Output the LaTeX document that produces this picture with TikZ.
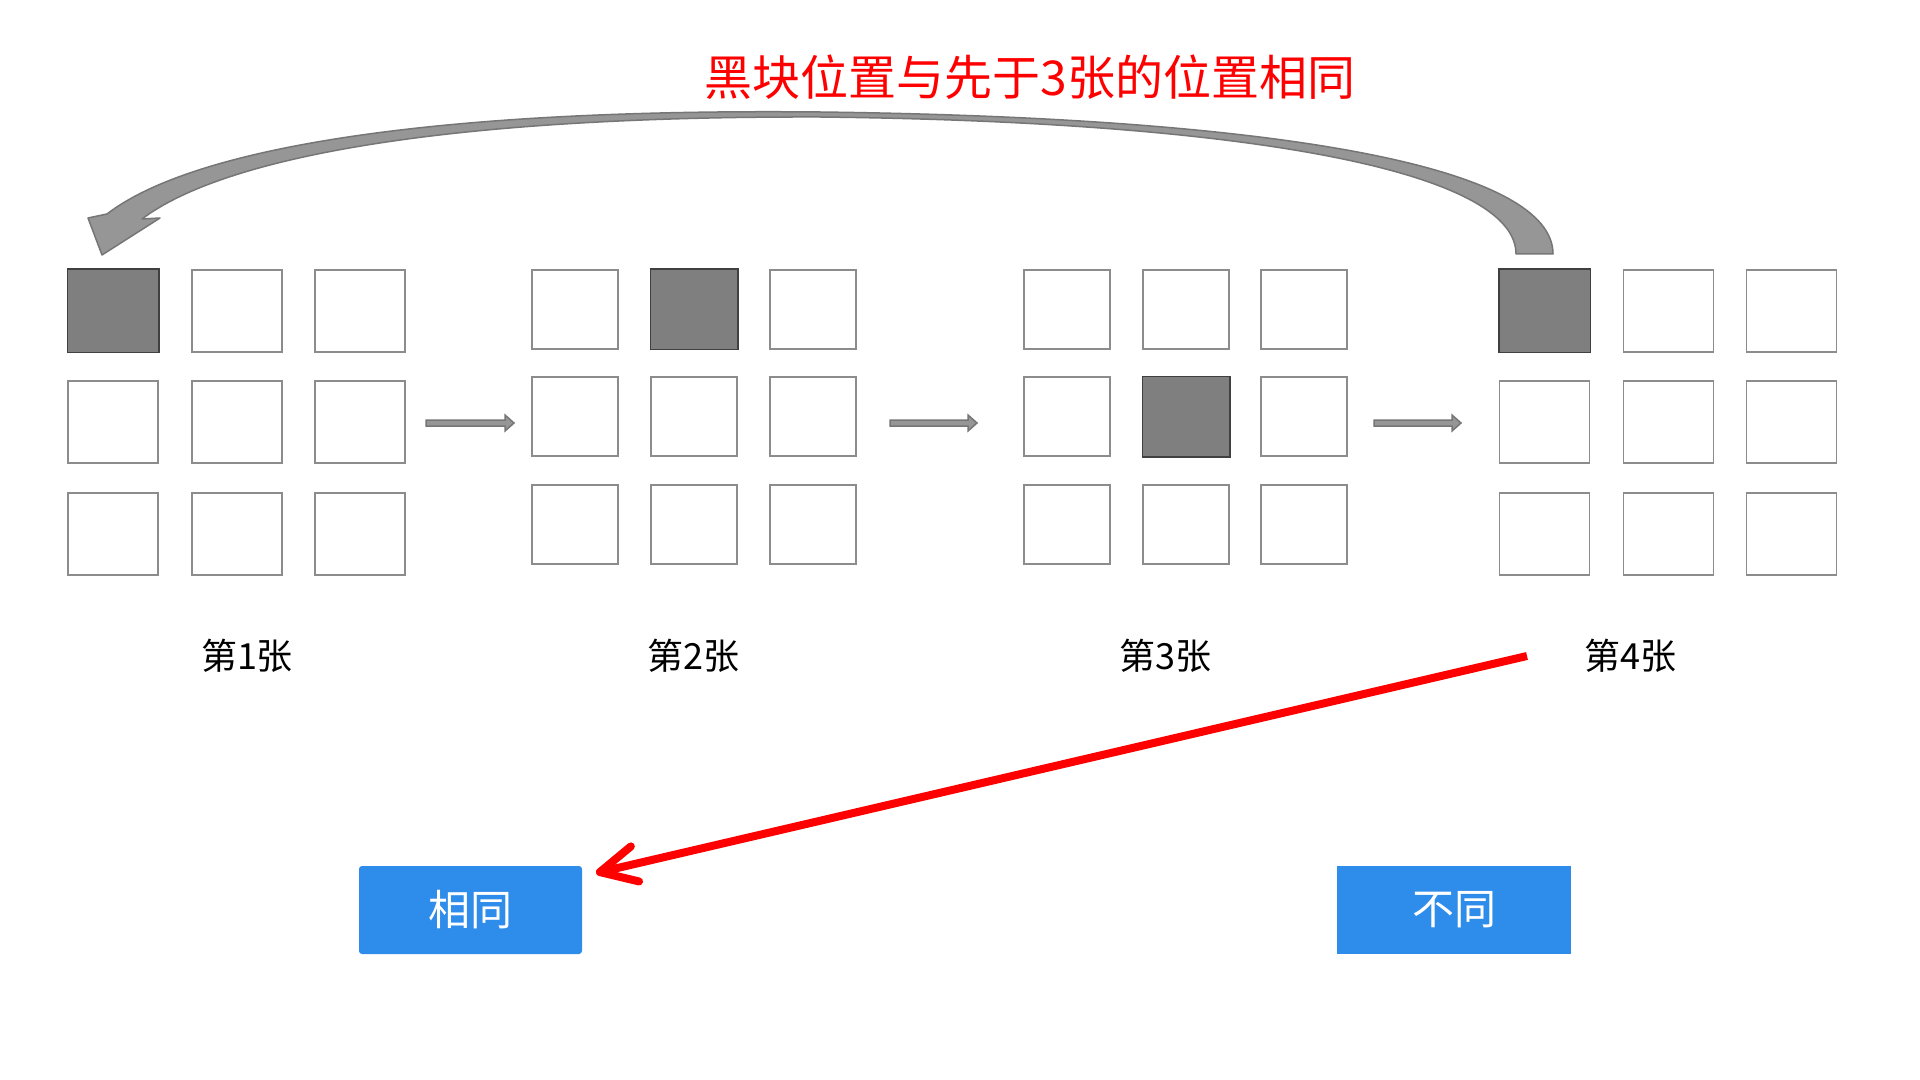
\documentclass[tikz,border=0pt]{standalone}
\usepackage{fontspec}
\newfontfamily\cjk{Noto Sans CJK SC}
\usetikzlibrary{arrows.meta,calc}
\definecolor{btnblue}{RGB}{46,140,235}
\definecolor{sqline}{RGB}{140,140,140}
\definecolor{darkfill}{RGB}{127,127,127}
\definecolor{darkline}{RGB}{64,64,64}
\definecolor{arrfill}{RGB}{150,150,150}
\definecolor{arrline}{RGB}{118,118,118}
\newcommand{\blockarr}[2]{%
  \path[smallarr] let \p1=(#1), \p2=(#2) in
    (\x1,\y1+1.5pt) -- (\x2-4.5pt,\y1+1.5pt) -- (\x2-4.5pt,\y1+4pt) -- (\x2,\y1)
    -- (\x2-4.5pt,\y1-4pt) -- (\x2-4.5pt,\y1-1.5pt) -- (\x1,\y1-1.5pt) -- cycle;}
\begin{document}
\begin{tikzpicture}[x=0.5pt,y=-0.5pt,
  cell/.style={draw=sqline, line width=0.75pt, fill=white, inner sep=0pt},
  bigcell/.style={cell, minimum width=45pt, minimum height=41pt},
  smallcell/.style={cell, minimum width=43pt, minimum height=39.5pt},
  dark/.style={fill=darkfill, draw=darkline, line width=0.75pt},
  lbl/.style={font=\cjk\fontsize{18pt}{20pt}\selectfont, text=black, inner sep=0pt},
  btn/.style={fill=btnblue, text=white, font=\cjk\fontsize{21pt}{24pt}\selectfont,
    minimum height=44pt, inner sep=0pt},
  smallarr/.style={fill=arrfill, draw=arrline, line width=0.75pt},
  bigarr/.style={fill=arrfill, draw=arrline, line width=0.75pt, line join=round},
  redarr/.style={draw=red, line width=4pt,
    -{Straight Barb[round, length=18pt, width=18pt]}},
  title/.style={font=\cjk\fontsize{24pt}{28pt}\selectfont, text=red, inner sep=0pt}]
\useasboundingbox (0,0) rectangle (1920,1080);
\fill[white] (0,0) rectangle (1920,1080);
% grid 1
\foreach \c/\x in {1/113,2/237,3/360}
  \foreach \r/\y in {1/311,2/422,3/534}
    \node[bigcell] (g1-\r-\c) at (\x,\y) {};
\draw[dark] (g1-1-1.north west) rectangle (g1-1-1.south east);
% grid 2
\foreach \c/\x in {1/575,2/694,3/813}
  \foreach \r/\y in {1/309.5,2/416.5,3/524.5}
    \node[smallcell] (g2-\r-\c) at (\x,\y) {};
\draw[dark] (g2-1-2.north west) rectangle (g2-1-2.south east);
% grid 3
\foreach \c/\x in {1/1067,2/1186,3/1304}
  \foreach \r/\y in {1/309.5,2/416.5,3/524.5}
    \node[smallcell] (g3-\r-\c) at (\x,\y) {};
\draw[dark] (g3-2-2.north west) rectangle (g3-2-2.south east);
% grid 4
\foreach \c/\x in {1/1544.5,2/1668.5,3/1791.5}
  \foreach \r/\y in {1/311,2/422,3/534}
    \node[bigcell] (g4-\r-\c) at (\x,\y) {};
\draw[dark] (g4-1-1.north west) rectangle (g4-1-1.south east);
% small block arrows
\coordinate (a1s) at (426,423); \coordinate (a1e) at (514,423);
\coordinate (a2s) at (890,423); \coordinate (a2e) at (977,423);
\coordinate (a3s) at (1374,423); \coordinate (a3e) at (1461,423);
\blockarr{a1s}{a1e}
\blockarr{a2s}{a2e}
\blockarr{a3s}{a3e}
% labels
\node[lbl] (l1) at (247,656) {第1张};
\node[lbl] (l2) at (693,656) {第2张};
\node[lbl] (l3) at (1165,656) {第3张};
\node[lbl] (l4) at (1630,656) {第4张};
% title
\node[title] (t) at (1030,77) {黑块位置与先于3张的位置相同};
% big curved arrow
\path[bigarr] (1553,254) .. controls (1553,170) and (1300,118) .. (820,112)
  .. controls (420,108) and (190,150) .. (107,214)
  -- (88,218) -- (102,255) -- (160,218) -- (142,219)
  .. controls (220,160) and (430,116) .. (820,117)
  .. controls (1270,122) and (1516,175) .. (1516,254) -- cycle;
% buttons
\node[btn, minimum width=111.5pt, rounded corners=1.5pt] (same) at (470.5,910) {相同};
\node[btn, minimum width=117pt] (diff) at (1454,910) {不同};
% red arrow
\coordinate (rs) at (1527,656);
\coordinate (rt) at (596,873);
\draw[redarr] (rs) -- (rt);
\end{tikzpicture}
\end{document}
